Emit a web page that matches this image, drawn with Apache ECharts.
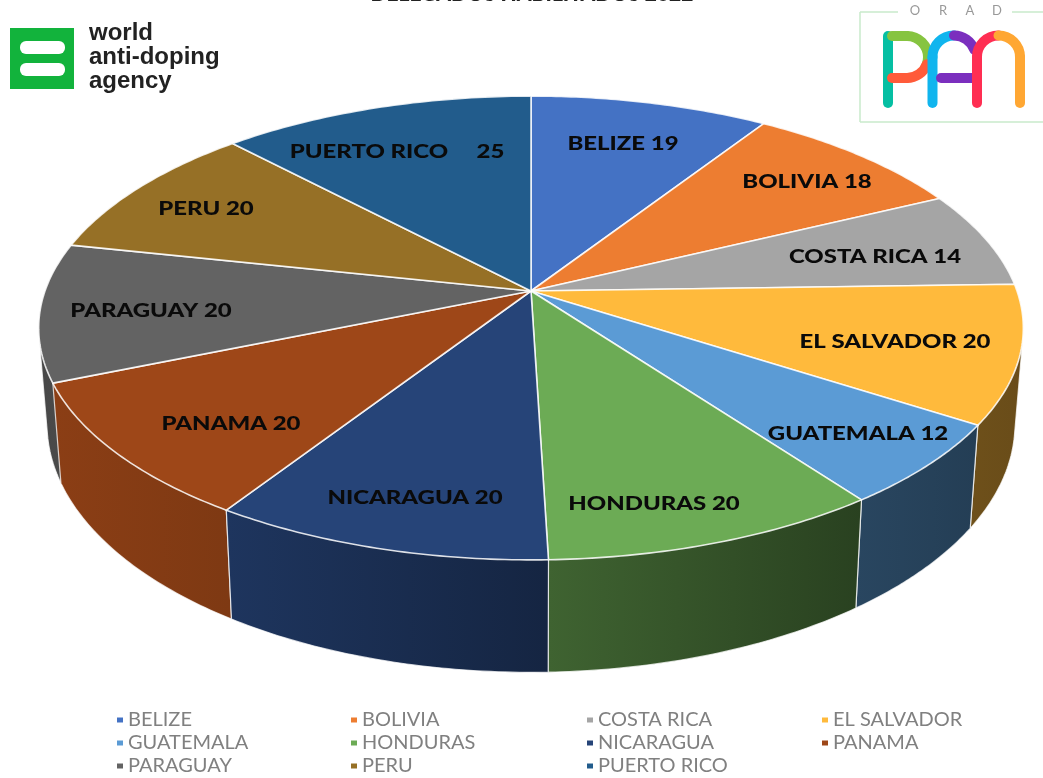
<!DOCTYPE html>
<html>
<head>
<meta charset="utf-8">
<style>html,body{margin:0;padding:0;background:#fff}#c{width:1043px;height:778px;filter:blur(0.7px)}</style>
<script src="https://cdn.jsdelivr.net/npm/echarts@6/dist/echarts.min.js"></script>
</head>
<body>
<div id="c"></div>
<script>
const categories = ['BELIZE','BOLIVIA','COSTA RICA','EL SALVADOR','GUATEMALA','HONDURAS','NICARAGUA','PANAMA','PARAGUAY','PERU','PUERTO RICO'];
const values = [19,18,14,20,12,20,20,20,20,20,25];
const labelTexts = ['BELIZE 19','BOLIVIA 18','COSTA RICA 14','EL SALVADOR 20','GUATEMALA 12','HONDURAS 20','NICARAGUA 20','PANAMA 20','PARAGUAY 20','PERU 20','PUERTO RICO     25'];
const colors = ['#4472C4','#ED7D31','#A5A5A5','#FFBA3C','#5B9BD5','#6CAB55','#264478','#9E4718','#636363','#967026','#225C8C'];
const wallShade = [[.8,.8],[.8,.8],[.7,.7],[.43,.41],[.45,.4],[.58,.38],[.78,.55],[.88,.8],[.72,.78],[.8,.8],[.8,.8]];
const labelAt = [[623,143.5],[807,181.5],[875,257],[895,342],[858,434],[654,504],[415,498],[231,424],[151,311],[206,209],[397,152]];
const legendColumns = [[0,4,8],[1,5,9],[2,6,10],[3,7]];
const legendLeft = [117,351,587,822];

const total = values.reduce((a,b)=>a+b,0);
const CX=531, CY=291, A=486, B=226, K=-0.1595;
function project(t){
  const u=Math.sin(t), v=-Math.cos(t), d=1+K*v;
  return [A*u/d, B*v/d];
}
const topPt = t => { const p=project(t); return [CX+p[0], CY+p[1]]; };
const botPt = t => { const p=project(t); return [CX+p[0]*0.983, CY+93.6+p[1]*1.07]; };
function shade(hex,f){
  const n=parseInt(hex.slice(1),16);
  return 'rgb('+[n>>16&255,n>>8&255,n&255].map(c=>Math.round(c*f)).join(',')+')';
}
function arc(fn,a0,a1){
  const pts=[], n=48;
  for(let i=0;i<=n;i++) pts.push(fn(a0+(a1-a0)*i/n));
  return pts;
}
function hull(points){
  const p=points.slice().sort((a,b)=>a[0]-b[0]||a[1]-b[1]);
  const cross=(o,a,b)=>(a[0]-o[0])*(b[1]-o[1])-(a[1]-o[1])*(b[0]-o[0]);
  const lo=[],up=[];
  p.forEach(q=>{while(lo.length>1&&cross(lo[lo.length-2],lo[lo.length-1],q)<=0)lo.pop();lo.push(q);});
  p.slice().reverse().forEach(q=>{while(up.length>1&&cross(up[up.length-2],up[up.length-1],q)<=0)up.pop();up.push(q);});
  return lo.slice(0,-1).concat(up.slice(0,-1));
}
function makeSeries(i){
  const before = values.slice(0,i).reduce((a,b)=>a+b,0);
  return {
    type:'custom', name:categories[i], coordinateSystem:'none', silent:true, animation:false,
    itemStyle:{color:colors[i]},
    data:[[values[i]]],
    renderItem:function(params,api){
      const a0=before/total*2*Math.PI, a1=(before+api.value(0))/total*2*Math.PI;
      const T=arc(topPt,a0,a1), Bt=arc(botPt,a0,a1);
      const wall=hull(T.concat(Bt));
      const xs=wall.map(p=>p[0]);
      const x0=Math.min.apply(null,xs), x1=Math.max.apply(null,xs);
      const depthOrder=5-4*Math.cos((a0+a1)/2);
      return {type:'group',children:[
        {type:'polygon',z2:depthOrder,shape:{points:wall},
         style:{fill:new echarts.graphic.LinearGradient(x0,0,x1,0,[
            {offset:0,color:shade(colors[i],wallShade[i][0])},
            {offset:1,color:shade(colors[i],wallShade[i][1])}],true),
            stroke:'rgba(255,255,255,0.75)',lineWidth:1.2}},
        {type:'polygon',z2:10,shape:{points:[[CX,CY]].concat(T)},
         style:{fill:colors[i],stroke:'rgba(255,255,255,0.85)',lineWidth:1.6,lineJoin:'round'}},
        {type:'text',z2:20,x:labelAt[i][0],y:labelAt[i][1],scaleX:1.26,
         style:{text:labelTexts[i],x:0,y:0,
          fill:'#0a0a0a',align:'center',verticalAlign:'middle',
          font:'900 19px Lato'}}
      ]};
    }
  };
}
const legends = legendColumns.map((col,k)=>({
  orient:'vertical', left:legendLeft[k], top:710, height:68, itemWidth:6, itemHeight:5, itemGap:3,
  icon:'rect', selectedMode:false, padding:0,
  data:col.map(i=>categories[i]),
  textStyle:{color:'#808080',fontFamily:'Lato',fontSize:20,lineHeight:18,padding:0}
}));
function stroke(color,w){ return {stroke:color,lineWidth:w,lineCap:'round',fill:null}; }
function logoArc(cx,cy,r,s,e,color){ return {type:'arc',shape:{cx,cy,r,startAngle:s*Math.PI/180,endAngle:e*Math.PI/180,clockwise:true},style:stroke(color,10)}; }
function logoLine(x1,y1,x2,y2,color,w,cap){ const st=stroke(color,w||10); if(cap) st.lineCap=cap; return {type:'line',shape:{x1,y1,x2,y2},style:st}; }
const graphics = [
  {type:'text',style:{text:'DELEGADOS HABILITADOS 2022',x:532,y:-6,align:'center',verticalAlign:'middle',font:'900 21px Lato',fill:'#222'}},
  {type:'rect',shape:{x:10,y:28,width:64,height:61},style:{fill:'#12B33C'}},
  {type:'rect',shape:{x:20,y:41,width:45,height:13,r:6},style:{fill:'#fff'}},
  {type:'rect',shape:{x:20,y:63,width:45,height:13,r:6},style:{fill:'#fff'}},
  {type:'text',style:{text:'world',x:89,y:33,verticalAlign:'middle',font:'bold 24px "Liberation Sans"',fill:'#222'}},
  {type:'text',style:{text:'anti-doping',x:89,y:57,verticalAlign:'middle',font:'bold 24px "Liberation Sans"',fill:'#222'}},
  {type:'text',style:{text:'agency',x:89,y:81,verticalAlign:'middle',font:'bold 24px "Liberation Sans"',fill:'#222'}},
  logoLine(860,12,898,12,'#c9eacb',1.5,'butt'),
  logoLine(1012,12,1043,12,'#c9eacb',1.5,'butt'),
  logoLine(860,12,860,122,'#c9eacb',1.5,'butt'),
  logoLine(860,122,1043,122,'#c9eacb',1.5,'butt'),
  {type:'text',style:{text:'O',x:915,y:11,align:'center',verticalAlign:'middle',font:'13px Lato',fill:'#999'}},
  {type:'text',style:{text:'R',x:943,y:11,align:'center',verticalAlign:'middle',font:'13px Lato',fill:'#999'}},
  {type:'text',style:{text:'A',x:970,y:11,align:'center',verticalAlign:'middle',font:'13px Lato',fill:'#999'}},
  {type:'text',style:{text:'D',x:997,y:11,align:'center',verticalAlign:'middle',font:'13px Lato',fill:'#999'}},
  logoLine(888,36,888,103,'#05BFA3'),
  logoLine(892,36,907,36,'#86C440'),
  logoArc(907,57,21,-90,20,'#86C440'),
  logoLine(892,78,907,78,'#FF5B3A'),
  logoArc(907,57,21,20,90,'#FF5B3A'),
  logoArc(954,57,21.5,180,270,'#10B5EE'),
  logoLine(932.5,57,932.5,103,'#10B5EE'),
  logoArc(954,57,21.5,270,340,'#7B2FBE'),
  logoLine(941,78,972,78,'#7B2FBE'),
  logoArc(998.5,57,21.5,180,270,'#FF2E52'),
  logoLine(977,57,977,103,'#FF2E52'),
  logoArc(998.5,57,21.5,270,360,'#FFA733'),
  logoLine(1020,57,1020,103,'#FFA733')
];
const chart = echarts.init(document.getElementById('c'),null,{renderer:'canvas'});
chart.setOption({
  animation:false,
  legend:legends,
  series:categories.map((_,i)=>makeSeries(i)),
  graphic:graphics
});
</script>
</body>
</html>
